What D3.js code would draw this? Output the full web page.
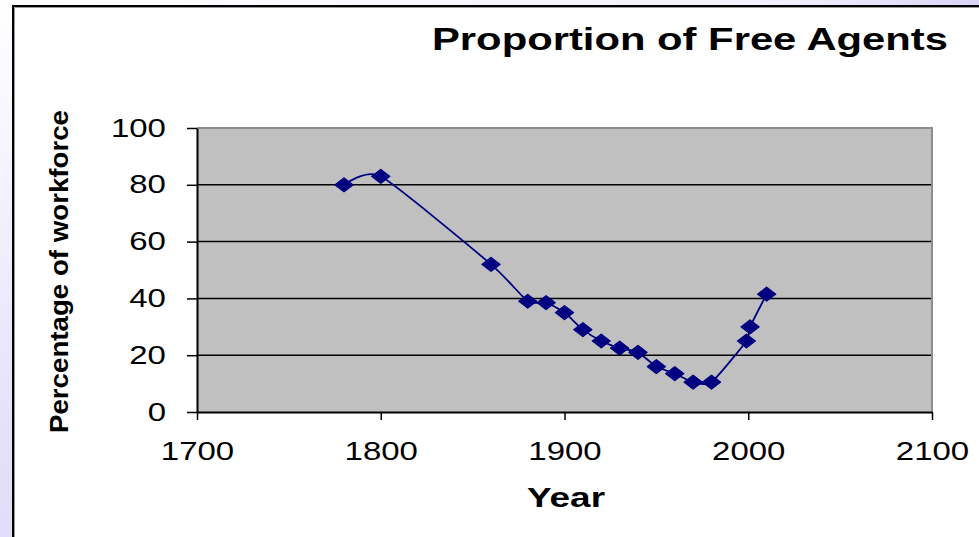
<!DOCTYPE html>
<meta charset="utf-8">
<style>
body { margin: 0; }
svg text { font-family: "Liberation Sans", Arial, sans-serif; fill: #000; }
</style>
<svg width="979" height="537" id="svg"></svg>
<script src="https://d3js.org/d3.v7.min.js"></script>
<script>

// values
var years  = [1780, 1800, 1860, 1880, 1890, 1900, 1910, 1920, 1930, 1940, 1950, 1960, 1970, 1980, 1999, 2001, 2010];
var shares = [80, 83, 52, 39, 38.5, 35, 29, 25, 22.5, 21, 16, 13.5, 10.5, 10.5, 25, 30, 41.5];
var xTicks = [1700, 1800, 1900, 2000, 2100];
var yTicks = [0, 20, 40, 60, 80, 100];

var svg = d3.select("svg"),
    width = +svg.attr("width"),
    height = +svg.attr("height");

var stretch = 1.32; // the picture is wider than tall text would be

// lavender slide background
var defs = svg.append("defs");
var grad = defs.append("linearGradient").attr("id", "bg")
    .attr("x1", 0).attr("y1", 0).attr("x2", 1).attr("y2", 1);
grad.append("stop").attr("offset", "0%").attr("stop-color", "#ffffff");
grad.append("stop").attr("offset", "40%").attr("stop-color", "#e6e1fa");
grad.append("stop").attr("offset", "100%").attr("stop-color", "#cfc5f1");
svg.append("rect").attr("width", width).attr("height", height).attr("fill", "url(#bg)");

var grad2 = defs.append("linearGradient").attr("id", "topbg")
    .attr("x1", 0).attr("y1", 0).attr("x2", 1).attr("y2", 0);
grad2.append("stop").attr("offset", "0%").attr("stop-color", "#ffffff");
grad2.append("stop").attr("offset", "80%").attr("stop-color", "#f2f0fd");
grad2.append("stop").attr("offset", "100%").attr("stop-color", "#d8d4f6");
svg.append("rect").attr("x", 12).attr("width", width - 12).attr("height", 5).attr("fill", "url(#topbg)");

// chart area box
svg.append("rect").attr("x", 12).attr("y", 5).attr("width", width).attr("height", height)
    .attr("fill", "#fff");
svg.append("path").attr("d", "M13," + height + "V6H" + width)
    .attr("fill", "none").attr("stroke", "#000").attr("stroke-width", 2);
svg.append("path").attr("d", "M14.5," + height + "V7.5H" + width)
    .attr("fill", "none").attr("stroke", "#9a9a9a").attr("stroke-width", 1);

var plotLeft = 197, plotRight = 932, plotTop = 128, plotBottom = 412;

var x = d3.scaleLinear().domain([1700, 2100]).range([plotLeft, plotRight]);
var y = d3.scaleLinear().domain([0, 100]).range([plotBottom, plotTop]);

// plot background
svg.append("rect")
    .attr("x", plotLeft).attr("y", plotTop)
    .attr("width", plotRight - plotLeft).attr("height", plotBottom - plotTop)
    .attr("fill", "#c0c0c0");

// grid lines
svg.append("g")
    .selectAll("line")
    .data(yTicks.filter(function(d) { return d > 0 && d < 100; }))
    .enter().append("line")
      .attr("x1", plotLeft).attr("x2", plotRight)
      .attr("y1", function(d) { return y(d); })
      .attr("y2", function(d) { return y(d); })
      .attr("stroke", "#000").attr("stroke-width", 1.5);

// top and right edges of plot
svg.append("path")
    .attr("d", "M" + plotLeft + "," + plotTop + "H" + plotRight + "V" + plotBottom)
    .attr("fill", "none").attr("stroke", "#8c8c8c").attr("stroke-width", 2);

var xAxis = svg.append("g")
    .attr("transform", "translate(0," + plotBottom + ")")
    .call(d3.axisBottom(x).tickValues(xTicks).tickFormat(d3.format("d"))
      .tickSize(8).tickSizeOuter(0).tickPadding(22));

var yAxis = svg.append("g")
    .attr("transform", "translate(" + plotLeft + ",0)")
    .call(d3.axisLeft(y).tickValues(yTicks).tickSize(10).tickSizeOuter(0).tickPadding(13.5));

[xAxis, yAxis].forEach(function(g) {
  g.selectAll("path.domain").attr("stroke", "#000").attr("stroke-width", 2);
  g.selectAll(".tick line").attr("stroke", "#000").attr("stroke-width", 1.5);
  g.selectAll(".tick text")
    .attr("font-family", "Liberation Sans, Arial, sans-serif")
    .attr("font-size", 25)
    .attr("fill", "#000")
    .attr("transform", "scale(" + stretch + ",1)");
});

// series line (smoothed, like the spreadsheet chart)
var pts = years.map(function(d, i) { return [d, shares[i]]; });
var line = d3.line()
    .x(function(d) { return x(d[0]); })
    .y(function(d) { return y(d[1]); })
    .curve(d3.curveCardinal.tension(0.4));

svg.append("path")
    .datum(pts)
    .attr("d", line)
    .attr("fill", "none")
    .attr("stroke", "#000080")
    .attr("stroke-width", 1.8);

svg.append("g")
    .selectAll("path")
    .data(pts)
    .enter().append("path")
      .attr("d", d3.symbol().type(d3.symbolSquare).size(98))
      .attr("transform", function(d) {
        return "translate(" + x(d[0]) + "," + y(d[1]) + ") scale(1.3,1) rotate(45)";
      })
      .attr("fill", "#000080")
      .attr("stroke", "#000080")
      .attr("stroke-width", 1)
      .attr("stroke-linejoin", "round");

// titles
svg.append("text")
    .attr("x", 432).attr("y", 50)
    .attr("font-size", 31).attr("font-weight", "bold")
    .attr("textLength", 516).attr("lengthAdjust", "spacingAndGlyphs")
    .text("Proportion of Free Agents");

svg.append("text")
    .attr("text-anchor", "middle")
    .attr("transform", "translate(68,271.5) rotate(-90)")
    .attr("font-size", 25).attr("font-weight", "bold")
    .attr("textLength", 323).attr("lengthAdjust", "spacingAndGlyphs")
    .text("Percentage of workforce");

svg.append("text")
    .attr("text-anchor", "middle")
    .attr("x", 566).attr("y", 507)
    .attr("font-size", 27).attr("font-weight", "bold")
    .attr("textLength", 78).attr("lengthAdjust", "spacingAndGlyphs")
    .text("Year");

</script>
